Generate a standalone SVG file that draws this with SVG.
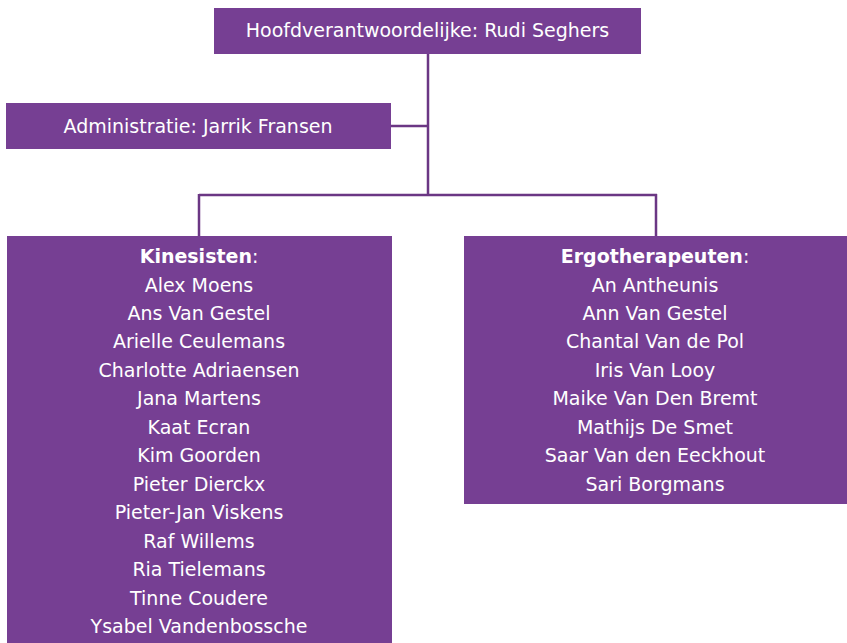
<svg xmlns="http://www.w3.org/2000/svg" width="847" height="643" viewBox="0 0 847 643">
<style>
.box{fill:#763F93}
.t{font-family:"DejaVu Sans",Verdana,sans-serif;font-size:19px;fill:#ffffff;text-anchor:middle}
.b{font-weight:bold}
.c{stroke:#6B3784;stroke-width:2.5;fill:none}
</style>
<rect width="847" height="643" fill="#ffffff"/>
<g id="connectors">
<path class="c" d="M428,53 V195 M391,126 H428 M199,195 H657 M199,194 V236 M656,194 V236"/>
</g>
<g id="hoofd">
<rect class="box" x="214" y="8" width="427" height="46"/>
<text class="t" x="427.5" y="37">Hoofdverantwoordelijke: Rudi Seghers</text>
</g>
<g id="admin">
<rect class="box" x="6" y="103" width="385" height="46"/>
<text class="t" x="198" y="133">Administratie: Jarrik Fransen</text>
</g>
<g id="kinesisten">
<rect class="box" x="7" y="236" width="385" height="407"/>
<text class="t" x="199" y="263"><tspan class="b">Kinesisten</tspan>:</text>
<text class="t" x="199" y="291.5">Alex Moens</text>
<text class="t" x="199" y="320">Ans Van Gestel</text>
<text class="t" x="199" y="348.4">Arielle Ceulemans</text>
<text class="t" x="199" y="376.8">Charlotte Adriaensen</text>
<text class="t" x="199" y="405.3">Jana Martens</text>
<text class="t" x="199" y="433.8">Kaat Ecran</text>
<text class="t" x="199" y="462.2">Kim Goorden</text>
<text class="t" x="199" y="490.7">Pieter Dierckx</text>
<text class="t" x="199" y="519.1">Pieter-Jan Viskens</text>
<text class="t" x="199" y="547.6">Raf Willems</text>
<text class="t" x="199" y="576.1">Ria Tielemans</text>
<text class="t" x="199" y="604.5">Tinne Coudere</text>
<text class="t" x="199" y="633">Ysabel Vandenbossche</text>
</g>
<g id="ergotherapeuten">
<rect class="box" x="464" y="236" width="383" height="268"/>
<text class="t" x="655" y="263"><tspan class="b">Ergotherapeuten</tspan>:</text>
<text class="t" x="655" y="291.5">An Antheunis</text>
<text class="t" x="655" y="320">Ann Van Gestel</text>
<text class="t" x="655" y="348.4">Chantal Van de Pol</text>
<text class="t" x="655" y="376.8">Iris Van Looy</text>
<text class="t" x="655" y="405.3">Maike Van Den Bremt</text>
<text class="t" x="655" y="433.8">Mathijs De Smet</text>
<text class="t" x="655" y="462.2">Saar Van den Eeckhout</text>
<text class="t" x="655" y="490.7">Sari Borgmans</text>
</g>
</svg>
